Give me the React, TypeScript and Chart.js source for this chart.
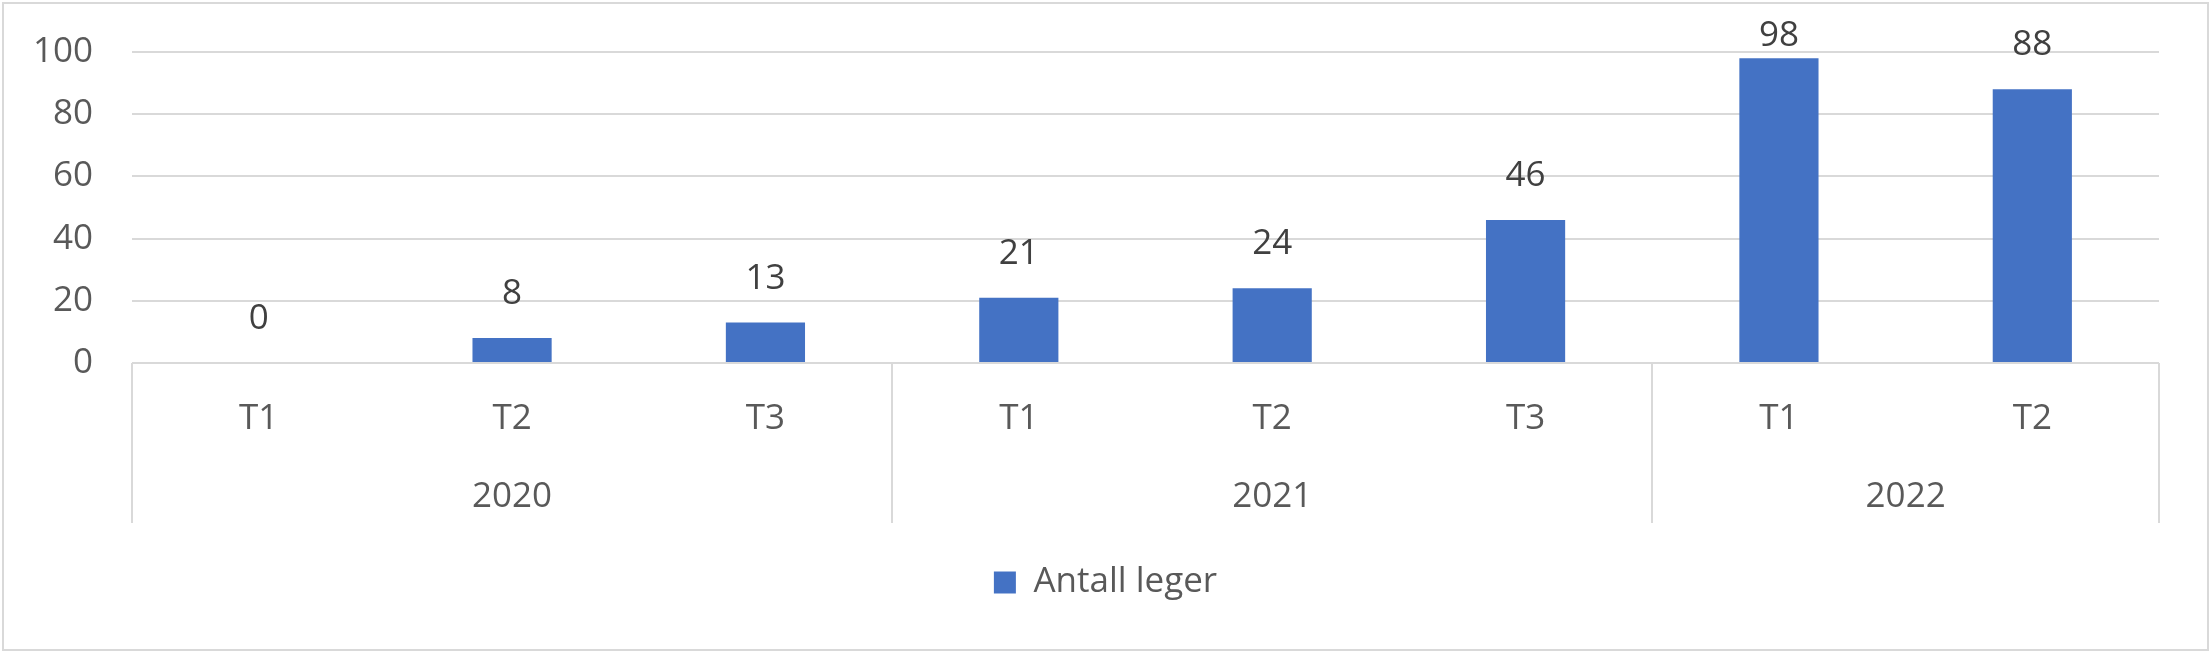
import React, { useEffect, useRef } from "react";
import { Chart, registerables } from "chart.js";

Chart.register(...registerables);

const quarters = ["T1", "T2", "T3", "T1", "T2", "T3", "T1", "T2"];
const yearOfCategory = ["2020", "2020", "2020", "2021", "2021", "2021", "2022", "2022"];
const antallLeger = [0, 8, 13, 21, 24, 46, 98, 88];
const seriesName = "Antall leger";

const FONT = "'Open Sans', 'Noto Sans', sans-serif";
const GRID = "#d9d9d9";

const framePlugin = {
  id: "frame",
  beforeDraw(chart: any) {
    const { ctx, width, height } = chart;
    ctx.save();
    ctx.fillStyle = "#ffffff";
    ctx.fillRect(0, 0, width, height);
    ctx.restore();
  },
  afterDraw(chart: any) {
    const { ctx, width, height, chartArea } = chart;
    const x = chart.scales.x;
    ctx.save();
    ctx.strokeStyle = GRID;
    ctx.lineWidth = 2;
    ctx.strokeRect(3, 3, width - 6, height - 6);

    const bottom = chartArea.bottom;
    const sepBottom = bottom + 160;
    const n = quarters.length;
    const bounds: number[] = [chartArea.left];
    const groups: { name: string; start: number; end: number }[] = [];
    let start = 0;
    for (let i = 1; i <= n; i++) {
      if (i === n || yearOfCategory[i] !== yearOfCategory[i - 1]) {
        groups.push({ name: yearOfCategory[i - 1], start, end: i - 1 });
        if (i < n) {
          bounds.push((x.getPixelForValue(i - 1) + x.getPixelForValue(i)) / 2);
        }
        start = i;
      }
    }
    bounds.push(chartArea.right);
    ctx.strokeStyle = GRID;
    ctx.lineWidth = 2;
    ctx.beginPath();
    bounds.forEach((bx) => {
      const px = Math.round(bx);
      ctx.moveTo(px, bottom);
      ctx.lineTo(px, sepBottom);
    });
    ctx.stroke();

    ctx.fillStyle = "#595959";
    ctx.font = `35px ${FONT}`;
    ctx.textAlign = "center";
    ctx.textBaseline = "middle";
    groups.forEach((g) => {
      const cx = (x.getPixelForValue(g.start) + x.getPixelForValue(g.end)) / 2;
      ctx.fillText(g.name, cx, bottom + 134);
    });

    const meta = chart.getDatasetMeta(0);
    ctx.fillStyle = "#404040";
    meta.data.forEach((bar: any, i: number) => {
      const ly = Math.max(bar.y - 44, 36);
      ctx.fillText(String(antallLeger[i]), bar.x, ly);
    });
    ctx.restore();
  },
};

export default function App() {
  const ref = useRef<HTMLCanvasElement | null>(null);
  useEffect(() => {
    document.body.style.margin = "0";
    const canvas = ref.current!;
    const chart = new Chart(canvas, {
      type: "bar",
      data: {
        labels: quarters,
        datasets: [
          {
            label: seriesName,
            data: antallLeger,
            backgroundColor: "#4472C4",
            borderWidth: 0,
            categoryPercentage: 1,
            barPercentage: 0.3125,
          },
        ],
      },
      options: {
        responsive: false,
        animation: false,
        layout: { padding: { top: 52, bottom: 43, left: 0, right: 0 } },
        plugins: {
          tooltip: { enabled: false },
          legend: {
            position: "bottom",
            labels: {
              boxWidth: 22,
              boxHeight: 22,
              padding: 10,
              color: "#595959",
              font: { family: FONT, size: 35 },
            },
          },
        },
        scales: {
          x: {
            grid: { display: false },
            border: { display: false },
            ticks: {
              color: "#595959",
              font: { family: FONT, size: 35 },
              padding: 27,
              maxRotation: 0,
              autoSkip: false,
            },
            afterFit(s: any) {
              s.height = 192;
            },
          },
          y: {
            min: 0,
            max: 100,
            grid: {
              color: GRID,
              lineWidth: 2,
              drawTicks: true,
              tickLength: 39,
              tickColor: "rgba(0,0,0,0)",
            },
            border: { display: false },
            ticks: {
              stepSize: 20,
              color: "#595959",
              font: { family: FONT, size: 35 },
              padding: 0,
            },
            afterFit(s: any) {
              s.width = 132;
            },
          },
          yRight: {
            position: "right",
            grid: { display: false },
            border: { display: false },
            ticks: { display: false },
            afterFit(s: any) {
              s.width = 52;
            },
          },
        },
      },
      plugins: [framePlugin],
    });
    return () => chart.destroy();
  }, []);
  return <canvas ref={ref} width={2211} height={653} style={{ display: "block" }} />;
}
